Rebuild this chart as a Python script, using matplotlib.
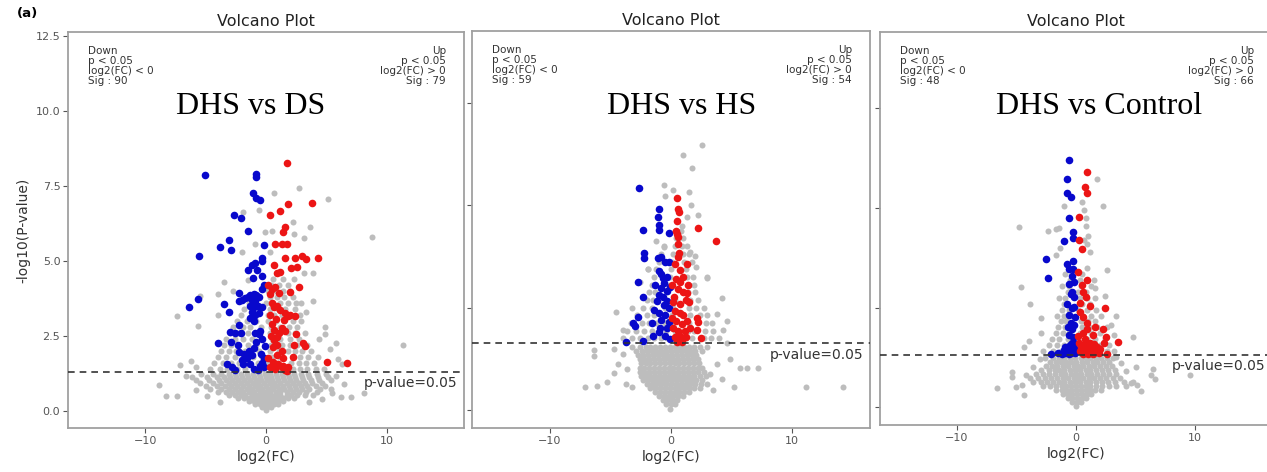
import matplotlib
matplotlib.use("Agg")
import matplotlib.pyplot as plt
import numpy as np

# ---- data ----
titles = ["DHS vs DS", "DHS vs HS", "DHS vs Control"]
sig_down = [90, 59, 48]
sig_up = [79, 54, 66]
p_cut = 0.05

# panel 1: grey points given per row (y, list of x)
p1_rows_y = [0.02, 0.12, 0.22, 0.32, 0.42, 0.52, 0.62, 0.72, 0.82, 0.92, 1.02, 1.12, 1.22,
             1.4, 1.6, 1.8, 2.0, 2.2, 2.4, 2.6, 2.8, 3.0, 3.2, 3.4, 3.6, 3.8, 4.0, 4.2, 4.4]
p1_rows_x = [
    [0.0],
    [-0.3, 0.1, 0.4],
    [-0.9, -0.5, -0.1, 0.3, 0.7, 1.0],
    [-1.4, -1.0, -0.6, -0.2, 0.2, 0.6, 1.0, 1.4],
    [-2.3, -1.8, -1.4, -1.0, -0.6, -0.2, 0.2, 0.6, 1.0, 1.4, 1.8, 2.3],
    [-3.1, -2.6, -2.1, -1.7, -1.2, -0.8, -0.4, 0.0, 0.4, 0.8, 1.2, 1.7, 2.1, 2.6, 3.2, 3.9],
    [-4.0, -3.3, -2.8, -2.3, -1.9, -1.4, -1.0, -0.5, -0.1, 0.3, 0.8, 1.2, 1.7, 2.2, 2.7, 3.3, 4.2],
    [-4.6, -3.7, -3.1, -2.6, -2.1, -1.6, -1.2, -0.7, -0.3, 0.2, 0.6, 1.1, 1.5, 2.0, 2.5, 3.0, 3.6, 4.5, 5.4],
    [-5.0, -4.1, -3.4, -2.9, -2.4, -1.9, -1.4, -0.9, -0.5, 0.0, 0.5, 0.9, 1.4, 1.9, 2.4, 2.9, 3.4, 4.1, 4.9],
    [-5.5, -4.4, -3.7, -3.1, -2.6, -2.1, -1.6, -1.1, -0.7, -0.2, 0.3, 0.7, 1.2, 1.7, 2.2, 2.7, 3.2, 3.8, 4.6],
    [-5.8, -4.7, -3.9, -3.3, -2.8, -2.3, -1.8, -1.3, -0.8, -0.4, 0.1, 0.5, 1.0, 1.5, 2.0, 2.5, 3.1, 3.7, 4.4, 5.4],
    [-6.1, -4.9, -4.1, -3.5, -3.0, -2.5, -2.0, -1.5, -1.0, -0.5, 0.0, 0.4, 0.9, 1.4, 1.9, 2.4, 3.0, 3.6, 4.3, 5.1],
    [-5.4, -4.4, -3.7, -3.1, -2.6, -2.1, -1.6, -1.1, -0.6, -0.1, 0.3, 0.8, 1.3, 1.8, 2.3, 2.9, 3.5, 4.2, 5.0],
    [-4.6, -3.8, -3.2, -2.4, -1.7, -1.0, -0.3, 0.5, 1.1, 2.2, 2.8, 3.4, 4.1, 4.8],
    [-4.3, -3.6, -2.9, -2.2, -1.5, -0.7, 0.2, 0.9, 2.1, 2.7, 3.3, 4.0],
    [-4.0, -3.3, -2.6, -1.9, -1.1, -0.3, 0.5, 1.2, 2.2, 2.8, 3.5, 4.3],
    [-3.7, -3.1, -2.5, -1.7, -0.6, 0.3, 1.1, 1.8, 2.4, 3.0, 3.7],
    [-3.5, -2.9, -2.3, -1.5, -0.8, 0.4, 1.3, 2.0, 2.6, 3.4],
    [-3.3, -2.6, -1.9, -1.2, -0.4, 0.5, 1.2, 2.0, 2.7],
    [-3.0, -2.3, -1.5, -0.6, 0.3, 1.0, 1.8, 2.4, 3.2],
    [-2.7, -1.9, -1.3, -0.4, 0.4, 1.2, 1.9, 2.6],
    [-2.4, -1.6, -0.8, 0.2, 0.8, 1.5, 2.2, 2.9],
    [-2.1, -1.0, 0.2, 0.7, 1.3, 2.0, 2.8],
    [-1.8, -0.5, 0.3, 1.0, 1.6, 2.4],
    [-1.4, 0.0, 0.6, 1.2, 1.8, 2.5],
    [-0.8, 0.3, 0.9, 1.5, 2.2],
    [0.2, 0.8, 1.4, 2.0],
    [0.4, 1.1, 1.8],
    [0.6, 1.4],
]
p1_grey = [(-7.4, 3.17), (-5.6, 2.83), (-5.5, 3.83), (-4.0, 3.9), (-4.0, 3.2), (4.9, 2.8), (4.9, 2.57),
           (5.95, 1.73), (5.3, 2.07), (-7.1, 1.53), (-8.9, 0.87), (-8.3, 0.5), (-7.35, 0.5), (8.1, 0.6),
           (7.05, 0.48), (6.2, 0.46), (8.8, 5.8), (11.35, 2.2), (5.17, 7.07), (2.77, 7.43), (0.66, 7.27),
           (-0.6, 6.7), (-1.9, 6.63), (3.65, 6.13), (3.15, 5.77), (3.9, 4.6), (3.15, 4.6), (3.9, 3.68),
           (2.2, 6.3), (2.3, 5.9), (0.5, 6.0), (-0.1, 5.95), (0.3, 5.3), (-0.9, 5.55), (-2.0, 5.3),
           (-1.5, 4.35), (-3.5, 4.3), (-2.7, 4.0), (2.3, 4.4), (3.3, 3.3), (2.9, 3.6), (4.4, 2.4),
           (5.8, 2.25), (6.3, 1.55), (-6.2, 1.65), (-5.8, 1.45), (-6.6, 1.15), (5.8, 1.15), (6.5, 0.9),
           (5.5, 0.6), (-4.9, 0.5), (-5.8, 0.7), (4.6, 0.4), (-3.8, 0.3), (3.6, 0.3)]
p1_down = [(-5.06, 7.87), (-0.83, 7.9), (-0.83, 7.8), (-1.1, 7.25), (-0.8, 7.1), (-0.46, 7.03),
           (-2.66, 6.52), (-2.03, 6.43), (-1.52, 6.0), (-3.1, 5.7), (-3.85, 5.47), (-2.93, 5.37),
           (-0.17, 5.52), (-5.53, 5.17), (-0.3, 5.1), (-0.3, 4.99), (-0.9, 4.93), (-1.17, 4.87),
           (-1.47, 4.7), (-0.76, 4.7), (-1.1, 4.42), (-0.3, 4.5), (-0.15, 4.2), (-0.3, 4.05),
           (-2.2, 3.94), (-1.5, 3.8), (-1.3, 3.85), (-1.0, 3.9), (-0.8, 3.85), (-0.6, 3.8), (-1.2, 3.7),
           (-0.9, 3.65), (-2.0, 3.7), (-1.7, 3.75), (-5.6, 3.74), (-6.4, 3.47), (-3.49, 3.55),
           (-1.35, 3.5), (-1.0, 3.45), (-0.7, 3.5), (-0.3, 3.45), (-1.2, 3.3), (-0.9, 3.2), (-1.3, 3.1),
           (-0.6, 3.25), (-1.0, 3.0), (-2.2, 3.65), (-3.05, 3.3), (-2.2, 2.87), (-3.0, 2.63),
           (-2.07, 2.59), (-3.96, 2.26), (-2.9, 2.31), (-2.35, 2.2), (-2.6, 2.6), (-0.9, 2.6),
           (-0.6, 2.55), (-0.3, 2.4), (-0.8, 2.3), (-0.1, 2.15), (-1.0, 2.1), (-0.5, 2.65), (-2.2, 1.95),
           (-1.8, 1.9), (-1.4, 2.0), (-1.2, 1.85), (-1.6, 1.75), (-3.2, 1.55), (-2.8, 1.45), (-2.6, 1.35),
           (-1.9, 1.55), (-1.3, 1.55), (-1.0, 1.4), (-0.5, 1.5), (-0.3, 1.6), (-0.2, 1.45), (-0.7, 1.35),
           (-2.0, 1.7), (-0.4, 1.9), (-0.15, 1.75)]
p1_up = [(1.71, 8.26), (1.79, 6.9), (3.82, 6.94), (1.16, 6.68), (0.33, 6.52), (1.58, 6.12), (1.44, 5.98),
         (1.3, 5.56), (1.7, 5.58), (0.72, 5.55), (1.55, 5.1), (2.43, 5.1), (3.0, 5.15), (3.28, 5.05),
         (4.3, 5.1), (2.54, 4.81), (2.05, 4.78), (0.69, 4.86), (0.9, 4.6), (1.17, 4.62), (0.2, 4.2),
         (0.76, 4.13), (1.1, 3.92), (2.77, 4.14), (0.48, 4.05), (1.99, 3.97), (0.67, 3.46), (1.2, 3.36),
         (1.6, 3.25), (2.0, 3.2), (1.5, 3.03), (0.5, 2.9), (0.65, 2.7), (1.05, 2.59), (1.3, 2.75),
         (2.5, 2.57), (3.1, 2.26), (3.2, 2.15), (0.67, 2.37), (0.88, 2.2), (1.3, 2.0), (0.6, 2.14),
         (0.88, 1.87), (1.44, 1.75), (2.26, 1.8), (0.2, 1.75), (0.6, 1.64), (1.0, 1.58), (1.3, 1.45),
         (1.7, 1.33), (1.4, 1.5), (5.04, 1.64), (6.75, 1.59), (0.3, 3.9), (0.5, 3.6), (0.9, 3.5),
         (0.3, 3.2), (0.8, 3.05), (0.4, 2.5), (0.9, 2.45), (1.6, 2.65), (1.8, 3.15), (2.4, 3.15),
         (0.35, 1.45), (0.75, 1.4), (1.8, 1.45), (1.55, 1.35), (2.3, 2.2)]

# panel 2
p2_rows_y = [0.03, 0.11, 0.19, 0.27, 0.35, 0.43, 0.51, 0.59, 0.67, 0.75, 0.83, 0.91, 0.99, 1.07, 1.15, 1.23,
             1.4, 1.55, 1.7, 1.85, 2.0, 2.15, 2.3, 2.45, 2.6, 2.75, 2.9, 3.05, 3.2, 3.35, 3.5]
p2_rows_x = [
    [-0.1],
    [-0.4, 0.0, 0.3],
    [-0.7, -0.3, 0.1, 0.5],
    [-1.0, -0.6, -0.2, 0.2, 0.6, 1.0],
    [-1.3, -0.9, -0.5, -0.1, 0.3, 0.7, 1.1, 1.5],
    [-1.7, -1.3, -0.9, -0.5, -0.1, 0.3, 0.7, 1.1, 1.5, 1.9, 2.4],
    [-2.0, -1.6, -1.2, -0.8, -0.4, 0.0, 0.4, 0.8, 1.2, 1.6, 2.0, 2.5, 3.0],
    [-2.3, -1.9, -1.5, -1.1, -0.7, -0.3, 0.1, 0.5, 0.9, 1.3, 1.7, 2.1, 2.6],
    [-2.5, -2.1, -1.7, -1.3, -0.9, -0.5, -0.1, 0.3, 0.7, 1.1, 1.5, 1.9, 2.4, 2.9],
    [-2.6, -2.2, -1.8, -1.4, -1.0, -0.6, -0.2, 0.2, 0.6, 1.0, 1.4, 1.8, 2.2, 2.7],
    [-2.6, -2.2, -1.8, -1.4, -1.0, -0.6, -0.2, 0.2, 0.6, 1.0, 1.4, 1.8, 2.2, 2.6],
    [-2.5, -2.1, -1.7, -1.3, -0.9, -0.5, -0.1, 0.3, 0.7, 1.1, 1.5, 1.9, 2.3],
    [-2.6, -2.2, -1.8, -1.4, -1.0, -0.6, -0.2, 0.2, 0.6, 1.0, 1.4, 1.8, 2.2],
    [-2.7, -2.3, -1.9, -1.5, -1.1, -0.7, -0.3, 0.1, 0.5, 0.9, 1.3, 1.7, 2.1],
    [-2.9, -2.4, -2.0, -1.6, -1.2, -0.8, -0.4, 0.0, 0.4, 0.8, 1.2, 1.6, 2.0, 2.6],
    [-3.2, -2.6, -2.1, -1.7, -1.3, -0.9, -0.5, -0.1, 0.3, 0.7, 1.1, 1.5, 1.9, 2.4, 3.0],
    [-4.0, -3.2, -2.6, -1.9, -1.4, -0.8, -0.3, 0.3, 1.2, 1.7, 2.7, 3.3, 4.0],
    [-3.6, -2.9, -2.2, -1.6, -1.0, -0.4, 0.3, 1.4, 1.9, 2.8, 3.5],
    [-3.3, -2.4, -1.8, -1.2, -0.5, 0.2, 1.5, 2.9, 3.4],
    [-2.8, -2.0, -1.4, -0.6, 0.1, 1.6, 2.4, 3.0],
    [-2.3, -1.6, -0.5, 0.2, 1.5, 2.1, 2.7],
    [-2.0, -1.5, -0.4, 0.3, 1.6, 2.2],
    [-1.8, -1.3, -0.3, 1.4, 2.0],
    [-1.6, -0.2, 1.5, 1.9],
    [-1.4, -0.1, 1.3, 1.8],
    [-1.9, -1.2, 0.0, 1.2],
    [-1.0, 0.1, 1.1, 1.7],
    [-0.8, 0.2, 1.0, 1.5],
    [-0.6, 0.3, 0.9, 1.3],
    [0.4, 1.0],
    [0.3, 0.8],
]
p2_grey = [(-7.1, 0.45), (-6.1, 0.47), (-5.3, 0.55), (-4.7, 0.72), (-4.4, 0.9), (-4.0, 1.1), (-3.7, 0.5),
           (-3.2, 0.45), (-3.6, 0.8), (-6.4, 1.17), (-6.4, 1.05), (-4.7, 1.2), (5.2, 0.45), (11.2, 0.45),
           (14.2, 0.45), (7.2, 0.82), (6.3, 0.82), (5.7, 0.82), (4.9, 1.0), (4.6, 1.3), (3.8, 0.9),
           (3.2, 0.7), (3.5, 0.4), (4.2, 0.6), (-4.55, 1.92), (-3.97, 1.57), (4.6, 1.74), (3.78, 1.88),
           (4.3, 1.56), (2.95, 2.6), (4.2, 2.18), (2.54, 5.17), (1.02, 4.98), (1.74, 4.72), (-0.55, 4.4),
           (1.52, 4.26), (-0.5, 4.18), (1.65, 4.0), (1.3, 3.77), (0.9, 3.6), (1.6, 3.08), (-0.58, 3.18),
           (3.0, 2.57), (2.1, 2.79), (2.0, 3.0), (-1.9, 2.75), (-2.6, 2.5), (-3.2, 2.0), (2.2, 3.8),
           (0.2, 4.3), (-1.2, 3.3)]
p2_down = [(-2.62, 4.33), (-0.97, 3.92), (-1.05, 3.76), (-0.97, 3.62), (-0.97, 3.51), (-2.29, 3.52),
           (-0.14, 3.46), (-2.25, 3.06), (-2.25, 2.96), (-1.06, 2.96), (-0.79, 2.99), (-0.2, 2.9),
           (-1.0, 2.72), (-0.85, 2.66), (-0.7, 2.58), (-0.3, 2.6), (-0.55, 2.48), (-2.7, 2.5),
           (-0.85, 2.38), (-1.0, 2.25), (-0.7, 2.2), (-0.3, 2.32), (-1.15, 2.12), (-0.3, 2.13),
           (-0.15, 2.0), (-0.6, 2.05), (-2.3, 2.21), (-1.4, 1.95), (-1.0, 1.9), (-0.5, 1.85),
           (-0.2, 1.72), (-2.7, 1.82), (-3.1, 1.69), (-3.0, 1.64), (-1.6, 1.7), (-0.9, 1.6), (-1.0, 1.52),
           (-2.3, 1.34), (-3.7, 1.33), (-0.08, 1.38), (-0.5, 1.45), (-1.5, 1.45), (-0.3, 1.6),
           (-0.8, 1.75), (-1.3, 2.45), (-0.5, 2.9), (-0.1, 2.4)]
p2_up = [(0.47, 4.14), (0.6, 3.92), (0.68, 3.87), (0.47, 3.69), (2.23, 3.56), (0.45, 3.49), (0.5, 3.43),
         (0.6, 3.37), (3.69, 3.3), (0.6, 3.25), (0.68, 3.06), (0.6, 2.99), (1.3, 2.85), (0.75, 2.74),
         (1.0, 2.6), (0.4, 2.55), (0.75, 2.5), (0.1, 2.45), (0.6, 2.37), (1.0, 2.3), (1.35, 2.28),
         (0.2, 2.1), (0.75, 2.08), (1.2, 2.14), (1.45, 2.1), (0.3, 1.94), (0.75, 1.9), (1.0, 1.85),
         (0.05, 1.8), (0.45, 1.74), (0.9, 1.68), (1.3, 1.74), (0.2, 1.6), (0.6, 1.55), (1.15, 1.55),
         (0.35, 1.42), (0.75, 1.45), (1.2, 1.42), (2.17, 1.79), (2.25, 1.72), (2.17, 1.56), (2.5, 1.4),
         (0.5, 1.33), (0.9, 1.32), (1.6, 1.6), (0.25, 2.2), (1.4, 2.45), (0.35, 2.85)]

# panel 3
p3_rows_y = [0.03, 0.13, 0.23, 0.33, 0.43, 0.53, 0.63, 0.73, 0.83, 0.93, 1.03, 1.13, 1.23,
             1.4, 1.55, 1.7, 1.85, 2.0, 2.15, 2.3, 2.45, 2.6, 2.75, 2.9, 3.05, 3.2, 3.35]
p3_rows_x = [
    [0.0],
    [-0.3, 0.1, 0.4],
    [-0.7, -0.3, 0.1, 0.5, 0.8],
    [-1.1, -0.7, -0.3, 0.1, 0.5, 0.9, 1.3],
    [-1.7, -1.2, -0.8, -0.4, 0.0, 0.4, 0.8, 1.2, 1.6, 2.1],
    [-2.8, -2.2, -1.7, -1.2, -0.8, -0.4, 0.0, 0.4, 0.8, 1.2, 1.7, 2.2, 2.8, 3.4, 4.2],
    [-3.6, -2.9, -2.4, -1.9, -1.4, -1.0, -0.5, -0.1, 0.3, 0.8, 1.2, 1.7, 2.2, 2.7, 3.3, 4.0, 4.8],
    [-3.9, -3.2, -2.6, -2.1, -1.6, -1.1, -0.7, -0.2, 0.2, 0.6, 1.1, 1.5, 2.0, 2.5, 3.1, 3.7],
    [-3.4, -2.8, -2.3, -1.8, -1.3, -0.9, -0.4, 0.0, 0.4, 0.9, 1.3, 1.8, 2.3, 2.8, 3.4],
    [-2.9, -2.3, -1.8, -1.4, -1.0, -0.5, -0.1, 0.3, 0.8, 1.2, 1.7, 2.2, 2.7, 3.3],
    [-2.5, -2.0, -1.6, -1.1, -0.7, -0.2, 0.2, 0.6, 1.1, 1.5, 2.0, 2.5, 3.0],
    [-2.2, -1.7, -1.3, -0.8, -0.4, 0.0, 0.5, 0.9, 1.4, 1.8, 2.3, 2.8],
    [-2.6, -1.9, -1.4, -1.0, -0.5, -0.1, 0.4, 0.8, 1.2, 1.7, 2.1, 2.6, 3.1],
    [-2.8, -1.9, -1.3, -0.9, 0.2, 0.7, 1.9, 2.6, 3.2],
    [-2.3, -1.6, -1.0, 0.1, 0.6, 1.1, 2.0, 2.8],
    [-2.0, -1.4, -0.7, 0.2, 0.9, 1.6, 2.4],
    [-1.7, -1.1, -0.6, 0.3, 1.3, 2.0],
    [-1.5, -0.9, -0.6, 0.5, 1.1, 1.8, 2.6],
    [-1.3, -0.8, 0.4, 1.0, 1.6],
    [-1.6, -1.0, -0.7, 0.6, 1.3, 2.1],
    [-1.2, -0.6, 0.2, 0.9, 1.7],
    [-1.0, -0.8, 0.5, 1.2],
    [-1.4, -0.9, 0.3, 0.9, 1.6],
    [-0.7, 0.2, 0.8],
    [-1.2, -0.6, 0.4, 1.3],
    [-0.5, 0.3],
    [-0.9, 0.5],
]
p3_grey = [(-4.76, 4.53), (-2.35, 4.43), (-1.7, 4.46), (1.75, 5.74), (0.48, 5.15), (2.29, 5.05),
           (0.65, 4.95), (0.8, 4.75), (0.8, 4.55), (1.0, 4.3), (0.95, 4.1), (1.2, 3.9), (0.7, 4.2),
           (-1.68, 3.82), (-1.35, 4.0), (2.63, 3.44), (0.9, 3.5), (1.5, 3.2), (1.6, 3.0), (2.4, 2.8),
           (-4.65, 3.02), (-3.9, 2.58), (-2.95, 2.23), (-2.98, 1.87), (-3.92, 1.67), (-4.34, 1.51),
           (4.82, 1.77), (3.36, 2.3), (2.9, 2.05), (3.2, 1.8), (-6.6, 0.48), (-5.4, 0.89), (-5.4, 0.75),
           (-5.0, 0.5), (-4.5, 0.55), (-4.2, 0.8), (-3.6, 1.0), (-4.4, 0.3), (5.0, 1.0), (6.3, 0.8),
           (6.5, 0.95), (6.6, 0.7), (9.6, 0.8), (5.1, 0.55), (4.6, 0.6), (4.2, 0.9), (3.8, 1.1),
           (5.5, 0.4), (-3.0, 1.2), (3.4, 1.25), (-1.0, 5.05), (-1.4, 4.5)]
p3_down = [(-0.56, 6.2), (-0.73, 5.72), (-0.73, 5.38), (-0.45, 5.28), (-0.56, 4.76), (-0.28, 4.4),
           (-0.22, 4.24), (-1.0, 4.16), (-2.52, 3.71), (-0.28, 3.67), (-0.73, 3.59), (-0.56, 3.48),
           (-0.22, 3.48), (-2.38, 3.23), (-0.17, 3.13), (-0.45, 2.85), (-0.14, 2.77), (-0.78, 2.6),
           (-0.14, 2.52), (-0.36, 2.48), (-0.56, 2.31), (-0.1, 2.27), (-0.45, 2.11), (-0.17, 2.07),
           (-0.36, 1.95), (-0.56, 1.81), (-0.22, 1.77), (-0.36, 1.6), (-1.0, 1.43), (-0.6, 1.41),
           (-0.3, 1.51), (-0.05, 1.47), (-0.2, 1.45), (-2.13, 1.33), (-1.2, 1.33), (-0.6, 1.33),
           (-0.8, 1.38), (-0.4, 1.36), (-0.1, 1.35), (-0.9, 1.5), (-0.5, 1.55), (-0.15, 1.62),
           (-0.7, 2.0), (-0.6, 3.1), (-0.3, 2.9), (-0.9, 1.35), (-1.5, 1.35), (-0.35, 3.3)]
p3_up = [(0.9, 5.9), (0.76, 5.53), (0.95, 5.37), (0.22, 4.78), (0.22, 4.2), (0.5, 3.96), (0.17, 3.4),
         (0.9, 3.19), (0.5, 3.07), (0.59, 2.9), (0.87, 2.76), (0.34, 2.61), (1.15, 2.53), (2.44, 2.49),
         (0.3, 2.4), (0.6, 2.27), (0.9, 2.1), (1.6, 2.0), (2.3, 1.97), (0.9, 1.97), (0.6, 1.85),
         (1.4, 1.82), (0.2, 1.78), (3.56, 1.63), (2.39, 1.62), (0.25, 1.6), (0.7, 1.55), (1.1, 1.5),
         (1.5, 1.58), (0.35, 1.42), (0.8, 1.4), (1.2, 1.38), (1.6, 1.4), (1.45, 1.33), (1.0, 1.33),
         (0.6, 1.33), (1.9, 1.35), (2.6, 1.34), (1.3, 1.47), (0.95, 1.45), (1.75, 1.5), (2.0, 1.45),
         (0.45, 1.5), (1.2, 1.62), (2.5, 1.75), (0.75, 1.7)]

# ---- layout (pixel boxes of each panel: left, top, right, bottom) ----
W, H = 1267, 472
fig = plt.figure(figsize=(W / 100, H / 100), dpi=100)

boxes = [(68, 32, 464, 428), (472, 31, 870, 428), (880, 32, 1272, 425)]
xlims = [(-16.4, 16.4), (-16.45, 16.45), (-16.47, 16.47)]
ylims = [(-0.57, 12.63), (-0.35, 7.4), (-0.45, 9.42)]
yticks = [[0, 2.5, 5, 7.5, 10, 12.5], [0, 2, 4, 6], [0, 2.5, 5, 7.5]]
label_pos = [(251, 107), (682, 107), (1099, 107)]

panels = [
    (p1_rows_y, p1_rows_x, p1_grey, p1_down, p1_up),
    (p2_rows_y, p2_rows_x, p2_grey, p2_down, p2_up),
    (p3_rows_y, p3_rows_x, p3_grey, p3_down, p3_up),
]

GREY, BLUE, RED = "#bdbdbd", "#0808cc", "#ec1515"
thr = -np.log10(p_cut)

for i, (rows_y, rows_x, grey, down, up) in enumerate(panels):
    l, t, r, b = boxes[i]
    ax = fig.add_axes([l / W, 1 - b / H, (r - l) / W, (b - t) / H])

    gx = [x for yy, xs in zip(rows_y, rows_x) for x in xs] + [p[0] for p in grey]
    gy = [yy for yy, xs in zip(rows_y, rows_x) for x in xs] + [p[1] for p in grey]
    ax.scatter(gx, gy, s=19, c=GREY, linewidths=0, zorder=2)
    d = np.array(down)
    u = np.array(up)
    ax.scatter(d[:, 0], d[:, 1], s=30, c=BLUE, linewidths=0, zorder=3)
    ax.scatter(u[:, 0], u[:, 1], s=30, c=RED, linewidths=0, zorder=3)

    ax.axhline(thr, color="#333333", lw=1.2, ls=(0, (4, 3)), zorder=4)
    ax.annotate("p-value=0.05", xy=(1, thr), xycoords=("axes fraction", "data"),
                xytext=(-5, -3), textcoords="offset points", ha="right", va="top",
                fontsize=10, color="#333333")

    ax.annotate(f"Down\np < 0.05\nlog2(FC) < 0\nSig : {sig_down[i]}", xy=(0, 1),
                xycoords="axes fraction", xytext=(14.5, -10), textcoords="offset points",
                ha="left", va="top", fontsize=7.5, linespacing=1.0, color="#333333")
    ax.annotate(f"Up\np < 0.05\nlog2(FC) > 0\nSig : {sig_up[i]}", xy=(1, 1),
                xycoords="axes fraction", xytext=(-13, -10), textcoords="offset points",
                ha="right", va="top", fontsize=7.5, linespacing=1.0, color="#333333")

    ax.set_xlim(*xlims[i])
    ax.set_ylim(*ylims[i])
    ax.set_xticks([-10, 0, 10])
    ax.set_yticks(yticks[i])
    ax.tick_params(direction="out", length=3.5, width=0.8, color="#555555",
                   labelcolor="#555555", labelsize=8, pad=2)
    if i == 0:
        ax.set_yticklabels([f"{v:.1f}" for v in yticks[i]])
        ax.set_ylabel("-log10(P-value)", fontsize=10, color="#333333", labelpad=4)
    else:
        ax.tick_params(labelleft=False)
    ax.set_xlabel("log2(FC)", fontsize=10, color="#333333", labelpad=3)
    ax.set_title("Volcano Plot", fontsize=11.5, color="#222222", pad=4)
    for s in ax.spines.values():
        s.set_color("#a0a0a0")
        s.set_linewidth(1.3)

    fig.text(label_pos[i][0] / W, 1 - label_pos[i][1] / H, titles[i],
             family="Liberation Serif", fontsize=23, ha="center", va="center", color="black")

fig.text(27 / W, 1 - 13 / H, "(a)", fontsize=9.5, fontweight="bold", ha="center", va="center")

fig.savefig("out.png", dpi=100)
